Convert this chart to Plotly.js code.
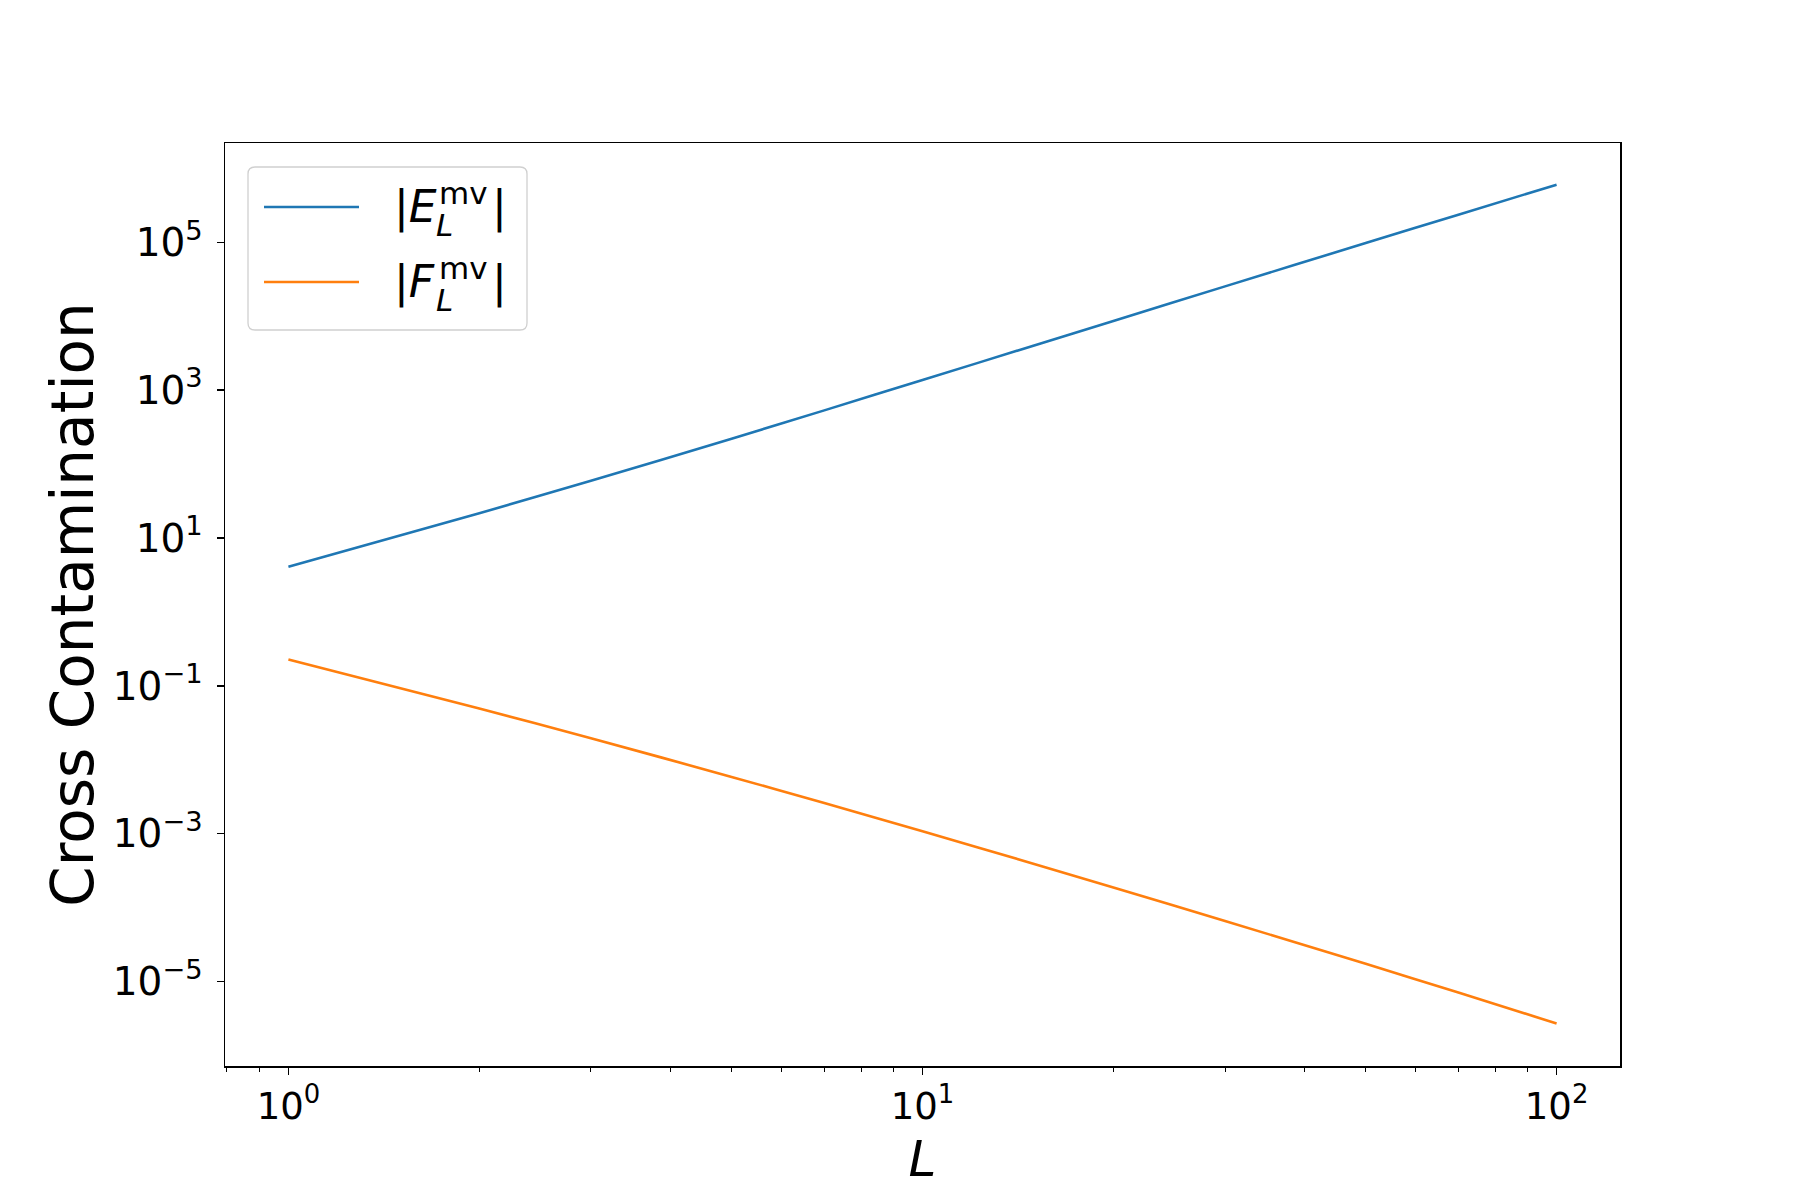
<!DOCTYPE html>
<html>
<head>
<meta charset="utf-8">
<script src="https://cdn.plot.ly/plotly-3.0.1.min.js"></script>
<style>
  html, body { margin: 0; padding: 0; background: #ffffff; }
  #chart { width: 1800px; height: 1200px; }
</style>
</head>
<body>
<div id="chart"></div>
<script>
// Multipole L values
const L = [1, 2, 3, 5, 7, 10, 15, 20, 30, 50, 70, 100];
// |E_L^mv|
const E_mv = [4.093, 21.58, 59.43, 219.8, 532.1, 1368, 4018, 8630, 25290, 97500, 236000, 601000];
// |F_L^mv|
const F_mv = [0.2275, 0.04955, 0.01959, 0.005875, 0.0026, 0.001081, 0.0003908, 0.0001879, 6.607e-5, 1.742e-5, 7.112e-6, 2.716e-6];

const seriesLetters = ["E", "F"];
const seriesNames = ["|E_L^mv|", "|F_L^mv|"];
const seriesColors = ["#1f77b4", "#ff7f0e"];

const xTickVals = [1, 10, 100];
const xTickText = ["10<sup>0</sup>", "10<sup>1</sup>", "10<sup>2</sup>"];
const xMinorVals = [0.8, 0.9, 2, 3, 4, 5, 6, 7, 8, 9, 20, 30, 40, 50, 60, 70, 80, 90];
const yTickVals = [1e-5, 1e-3, 1e-1, 1e1, 1e3, 1e5];
const yTickText = ["10<sup>\u22125</sup>", "10<sup>\u22123</sup>", "10<sup>\u22121</sup>", "10<sup>1</sup>", "10<sup>3</sup>", "10<sup>5</sup>"];

const FONT = "DejaVu Sans, Liberation Sans, sans-serif";

// plot-area geometry (pixels) used to place the legend decoration
const W = 1800, H = 1200;
const M = { l: 225, r: 180, t: 143, b: 134 };
const PW = W - M.l - M.r, PH = H - M.t - M.b;
const px = x => (x - M.l) / PW;
const py = y => (H - M.b - y) / PH;

const traces = [E_mv, F_mv].map((ys, i) => ({
  x: L,
  y: ys,
  type: "scatter",
  mode: "lines",
  name: seriesNames[i],
  showlegend: false,
  line: { color: seriesColors[i], width: 2.6, shape: "spline", smoothing: 0.6 }
}));

// Legend box (matplotlib-style, rounded corners)
const bx0 = 248, bx1 = 527, by0 = 167, by1 = 330, rad = 7;
const rr = [
  `M${px(bx0 + rad)},${py(by0)}`,
  `L${px(bx1 - rad)},${py(by0)}`,
  `Q${px(bx1)},${py(by0)} ${px(bx1)},${py(by0 + rad)}`,
  `L${px(bx1)},${py(by1 - rad)}`,
  `Q${px(bx1)},${py(by1)} ${px(bx1 - rad)},${py(by1)}`,
  `L${px(bx0 + rad)},${py(by1)}`,
  `Q${px(bx0)},${py(by1)} ${px(bx0)},${py(by1 - rad)}`,
  `L${px(bx0)},${py(by0 + rad)}`,
  `Q${px(bx0)},${py(by0)} ${px(bx0 + rad)},${py(by0)}`,
  "Z"
].join(" ");

const shapes = [{
  type: "path", xref: "paper", yref: "paper", path: rr,
  line: { color: "#d0d0d0", width: 1.3 }, fillcolor: "rgba(255,255,255,0.8)", layer: "above"
}];
const annotations = [];
const rowY = [207, 282];
seriesLetters.forEach((letter, i) => {
  const yc = rowY[i];
  shapes.push({
    type: "line", xref: "paper", yref: "paper",
    x0: px(264), x1: px(359), y0: py(yc), y1: py(yc),
    line: { color: seriesColors[i], width: 2.6 }, layer: "above"
  });
  const base = { xref: "paper", yref: "paper", showarrow: false, xanchor: "left", yanchor: "middle", borderpad: 0, borderwidth: 0 };
  annotations.push(Object.assign({}, base, {
    x: px(394), y: py(yc), text: "|<i>" + letter + "</i>",
    font: { family: FONT, size: 44, color: "#000000" }
  }));
  annotations.push(Object.assign({}, base, {
    x: px(439), y: py(yc - 14), text: "mv",
    font: { family: FONT, size: 31, color: "#000000" }
  }));
  annotations.push(Object.assign({}, base, {
    x: px(436), y: py(yc + 18), text: "<i>L</i>",
    font: { family: FONT, size: 31, color: "#000000" }
  }));
  annotations.push(Object.assign({}, base, {
    x: px(492), y: py(yc), text: "|",
    font: { family: FONT, size: 44, color: "#000000" }
  }));
});

const layout = {
  width: W,
  height: H,
  paper_bgcolor: "#ffffff",
  plot_bgcolor: "#ffffff",
  font: { family: FONT, color: "#000000", size: 38 },
  margin: { l: M.l, r: M.r, t: M.t, b: M.b, pad: 0 },
  showlegend: false,
  shapes: shapes,
  annotations: annotations,
  xaxis: {
    type: "log",
    range: [-0.1, 2.1],
    tickmode: "array",
    tickvals: xTickVals,
    ticktext: xTickText,
    ticks: "outside",
    ticklen: 7,
    tickwidth: 1.3,
    tickcolor: "#000000",
    tickfont: { family: FONT, size: 37, color: "#000000" },
    minor: { tickmode: "array", tickvals: xMinorVals, ticks: "outside", ticklen: 4, tickwidth: 1, tickcolor: "#000000", showgrid: false },
    showgrid: false,
    zeroline: false,
    showline: true,
    linecolor: "#000000",
    linewidth: 1.5,
    mirror: true,
    automargin: false,
    title: { text: "<i>L</i>", font: { family: FONT, size: 50, color: "#000000" }, standoff: 14 }
  },
  yaxis: {
    type: "log",
    range: [-6.141, 6.342],
    tickmode: "array",
    tickvals: yTickVals,
    ticktext: yTickText,
    ticks: "outside",
    ticklen: 7,
    tickwidth: 1.3,
    tickcolor: "#000000",
    ticklabelstandoff: 6,
    tickfont: { family: FONT, size: 39, color: "#000000" },
    showgrid: false,
    zeroline: false,
    showline: true,
    linecolor: "#000000",
    linewidth: 1.5,
    mirror: true,
    automargin: false,
    title: { text: "Cross Contamination", font: { family: FONT, size: 58, color: "#000000" }, standoff: 0 }
  }
};

Plotly.newPlot("chart", traces, layout, { staticPlot: true, displayModeBar: false });
</script>
</body>
</html>
